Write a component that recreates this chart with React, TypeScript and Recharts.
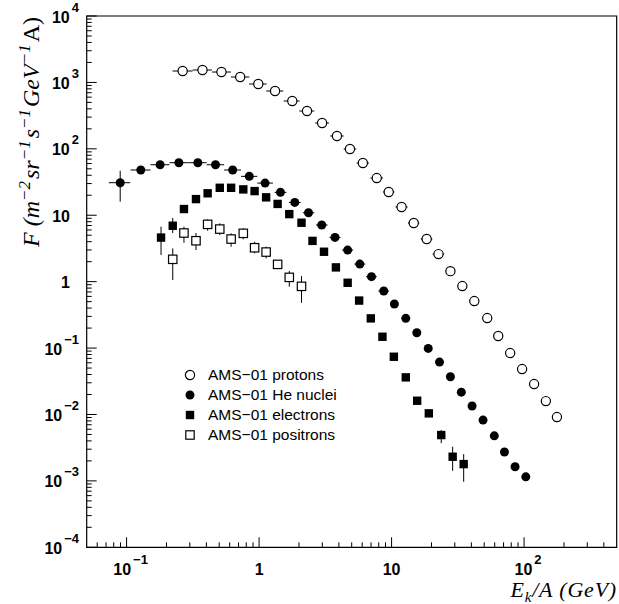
import React from "react";
import { ErrorBar, Label, Legend, ReferenceArea, Scatter, ScatterChart, XAxis, YAxis } from "recharts";

// AMS-01 spectra, values (E in GeV/n, F in m^-2 sr^-1 s^-1 (GeV/n)^-1)
const PROTON_E = [0.265, 0.374, 0.52, 0.72, 0.986, 1.32, 1.78, 2.3, 2.99, 3.87, 4.85, 6.07, 7.73, 9.51, 11.9, 14.7, 18.4, 22.6, 27.8, 34.2, 42.1, 52.7, 63.8, 78.5, 96.6, 119, 146, 177];
const PROTON_F = [1485, 1537, 1434, 1206, 946, 742, 525, 371, 245, 156, 99.3, 61.1, 36.3, 22.4, 13.3, 7.63, 4.38, 2.6, 1.44, 0.858, 0.51, 0.283, 0.152, 0.0841, 0.0483, 0.0287, 0.0159, 0.00914];
const PROTON_E_ERR = [[0.043, 0.05], [0.059, 0.067], [0.079, 0.093], [0.107, 0.124], [0.146, 0.152], [0.188, 0.203], [0.247, 0.242], [0.288, 0.311], [0.34, 0.38], [0.43, 0.48], [0.5, 0.56], [0.62, 0.68], [0.8, 0.88], [0.9, 1.0], [1.2, 1.3], [1.4, 1.5], [1.8, 1.9], [2.2, 2.3]];

const HE_E = [0.0895, 0.128, 0.179, 0.248, 0.345, 0.469, 0.632, 0.843, 1.11, 1.45, 1.86, 2.36, 2.97, 3.74, 4.66, 5.76, 7.05, 8.73, 10.5, 12.8, 15.5, 18.9, 23.0, 27.8, 33.6, 40.5, 49.0, 59.6, 71.1, 85.5, 103];
const HE_F = [30.9, 48.0, 57.6, 61.8, 61.8, 57.6, 48.0, 38.5, 30.5, 22.1, 15.6, 10.9, 7.12, 4.64, 2.99, 1.84, 1.19, 0.722, 0.46, 0.28, 0.17, 0.0989, 0.0615, 0.037, 0.0217, 0.0134, 0.00824, 0.00477, 0.00272, 0.00163, 0.00115];
const HE_E_ERR = [[0.016, 0.017], [0.0208, 0.0235], [0.0275, 0.0318], [0.0372, 0.0448], [0.0522, 0.0575], [0.0665, 0.0757], [0.0873, 0.0991], [0.112, 0.126], [0.141, 0.162], [0.14, 0.16], [0.18, 0.2], [0.22, 0.25], [0.28, 0.32], [0.34, 0.38], [0.42, 0.47], [0.52, 0.58], [0.62, 0.68], [0.78, 0.85]];
const HE_F_ERR = [[14.9, 15.9]];

const ELECTRON_E = [0.182, 0.223, 0.271, 0.334, 0.409, 0.505, 0.615, 0.76, 0.925, 1.13, 1.38, 1.69, 2.09, 2.53, 3.09, 3.8, 4.66, 5.69, 6.97, 8.53, 10.4, 12.8, 15.6, 19.1, 23.7, 28.9, 35.0];
const ELECTRON_F = [4.61, 6.95, 12.4, 17.5, 21.4, 25.9, 25.9, 24.5, 23.1, 18.6, 14.8, 10.4, 7.71, 4.11, 2.82, 1.64, 0.962, 0.519, 0.28, 0.148, 0.074, 0.0362, 0.0161, 0.0104, 0.0049, 0.00231, 0.00179];
const ELECTRON_F_ERR: (number[] | undefined)[] = [[2.09, 2.1], [1.55, 2.13], [1.0, 1.2]];
ELECTRON_F_ERR[24] = [0.00119, 0.00092];
ELECTRON_F_ERR[25] = [0.00089, 0.00096];
ELECTRON_F_ERR[26] = [0.00082, 0.00074];

const POSITRON_E = [0.223, 0.271, 0.334, 0.409, 0.505, 0.615, 0.76, 0.925, 1.13, 1.38, 1.69, 2.09];
const POSITRON_F = [2.17, 5.4, 4.13, 7.29, 6.19, 4.38, 5.34, 3.24, 2.79, 1.82, 1.16, 0.85];
const POSITRON_F_ERR = [[1.11, 1.0], [1.55, 1.31], [1.14, 1.27], [1.44, 1.38], [1.15, 1.36], [1.02, 0.96], [1.0, 1.01], [0.57, 0.75], [0.55, 0.57], [0.2, 0.2], [0.32, 0.29], [0.37, 0.36]];

const LEGEND = [
  { kind: "openCircle", label: "AMS\u221201 protons" },
  { kind: "circle", label: "AMS\u221201 He nuclei" },
  { kind: "square", label: "AMS\u221201 electrons" },
  { kind: "openSquare", label: "AMS\u221201 positrons" },
];

const X_DOMAIN = [0.05, 500];
const Y_DOMAIN = [1e-4, 1e4];
const X_TICKS = [0.06, 0.07, 0.08, 0.09, 0.1, 0.2, 0.3, 0.4, 0.5, 0.6, 0.7, 0.8, 0.9, 1, 2, 3, 4, 5, 6, 7, 8, 9, 10, 20, 30, 40, 50, 60, 70, 80, 90, 100, 200, 300, 400];
const Y_DECADES = [1e-4, 1e-3, 1e-2, 1e-1, 1, 10, 100, 1e3];
const Y_TICKS = [...Y_DECADES.flatMap((d) => [1, 2, 3, 4, 5, 6, 7, 8, 9].map((m) => m * d)), 1e4];

const W = 619;
const H = 604;
const LEFT = 86.7;
const TOP = 16;
const RIGHT = 616.7;
const BOTTOM = 547.3;

const SANS = "'Liberation Sans', Arial, Helvetica, sans-serif";
const SERIF = "'Liberation Serif', 'Times New Roman', Times, serif";

const build = (xs: number[], ys: number[], ex?: any[], ey?: any[]) =>
  xs.map((x, i) => ({ x, y: ys[i], ex: ex?.[i], ey: ey?.[i] }));

const protons = build(PROTON_E, PROTON_F, PROTON_E_ERR);
const helium = build(HE_E, HE_F, HE_E_ERR, HE_F_ERR);
const electrons = build(ELECTRON_E, ELECTRON_F, undefined, ELECTRON_F_ERR);
const positrons = build(POSITRON_E, POSITRON_F, undefined, POSITRON_F_ERR);

function marker(kind: string, cx: number, cy: number) {
  if (kind === "openCircle")
    return <circle cx={cx} cy={cy} r={4.6} fill="#fff" stroke="#000" strokeWidth={1.2} />;
  if (kind === "circle") return <circle cx={cx} cy={cy} r={4.5} fill="#000" />;
  if (kind === "square") return <rect x={cx - 4.2} y={cy - 4.2} width={8.4} height={8.4} fill="#000" />;
  return <rect x={cx - 4.2} y={cy - 4.2} width={8.4} height={8.4} fill="#fff" stroke="#000" strokeWidth={1.2} />;
}

const shape = (kind: string) => (p: any) => marker(kind, p.cx, p.cy);

function isDecade(v: number) {
  const l = Math.log10(v);
  return Math.abs(l - Math.round(l)) < 1e-6;
}

function powLabel(v: number) {
  const e = Math.round(Math.log10(v));
  if (e === 0) return { base: "1", exp: "" };
  if (e === 1) return { base: "10", exp: "" };
  return { base: "10", exp: e < 0 ? "\u2212" + Math.abs(e) : String(e) };
}

function XTick(props: any) {
  const { x, payload } = props;
  const major = isDecade(payload.value);
  const lab = powLabel(payload.value);
  return (
    <g>
      <line x1={x} x2={x} y1={BOTTOM} y2={BOTTOM - (major ? 10 : 5)} stroke="#000" strokeWidth={1} />
      {major && (
        <text x={x + (lab.exp ? 4 : 0)} y={575} textAnchor="middle" fontFamily={SANS} fontWeight="bold" fontSize={16} fill="#000">
          {lab.base}
          {lab.exp && (
            <tspan dx={2} dy={-11} fontSize={13}>
              {lab.exp}
            </tspan>
          )}
        </text>
      )}
    </g>
  );
}

function YTick(props: any) {
  const { y, payload } = props;
  const major = isDecade(payload.value);
  const lab = powLabel(payload.value);
  return (
    <g>
      <line x1={LEFT} x2={LEFT + (major ? 10 : 5)} y1={y} y2={y} stroke="#000" strokeWidth={1} />
      {major && (
        <text x={lab.exp ? 79 : 70} y={y + 6.5} textAnchor="end" fontFamily={SANS} fontWeight="bold" fontSize={16} fill="#000">
          {lab.base}
          {lab.exp && (
            <tspan dx={2} dy={-11} fontSize={13}>
              {lab.exp}
            </tspan>
          )}
        </text>
      )}
    </g>
  );
}

function YTitle() {
  const sup = (s: string) => (
    <>
      <tspan dy={-9} fontSize={17}>
        {s}
      </tspan>
      <tspan dy={9}>{"\u200a"}</tspan>
    </>
  );
  return (
    <text x={39} y={132} transform="rotate(-90, 39, 132)" textAnchor="middle" fontFamily={SERIF} fontStyle="italic" fontSize={24} fill="#000">
      <tspan>F (m</tspan>
      {sup("\u22122")}
      <tspan>sr</tspan>
      {sup("\u22121")}
      <tspan>s</tspan>
      {sup("\u22121")}
      <tspan>GeV</tspan>
      {sup("\u22121")}
      <tspan fontStyle="normal">A)</tspan>
    </text>
  );
}

function XTitle() {
  return (
    <text x={617} y={597} textAnchor="end" fontFamily={SERIF} fontStyle="italic" fontSize={22} letterSpacing={0.8} fill="#000">
      E
      <tspan dy={5} fontSize={15}>
        k
      </tspan>
      <tspan dy={-5}>/A (GeV)</tspan>
    </text>
  );
}

function LegendBox() {
  return (
    <div style={{ fontFamily: SANS, fontSize: 15.5, color: "#000" }}>
      {LEGEND.map((item) => (
        <div key={item.label} style={{ display: "flex", alignItems: "center", height: 20 }}>
          <svg width={12} height={12} style={{ display: "block" }}>
            {marker(item.kind, 6, 6)}
          </svg>
          <span style={{ marginLeft: 12.5, whiteSpace: "nowrap" }}>{item.label}</span>
        </div>
      ))}
    </div>
  );
}

export default function App() {
  return (
    <div style={{ position: "absolute", left: 0, top: 0, background: "#fff" }}>
      <ScatterChart
        width={W}
        height={H}
        margin={{ top: TOP, right: W - RIGHT, bottom: H - BOTTOM - 1, left: LEFT - 1 }}
      >
        <XAxis
          dataKey="x"
          type="number"
          scale="log"
          domain={X_DOMAIN}
          allowDataOverflow
          ticks={X_TICKS}
          interval={0}
          height={1}
          axisLine={false}
          tickLine={false}
          tick={<XTick />}
        >
          <Label content={<XTitle />} />
        </XAxis>
        <YAxis
          dataKey="y"
          type="number"
          scale="log"
          domain={Y_DOMAIN}
          allowDataOverflow
          ticks={Y_TICKS}
          interval={0}
          width={1}
          axisLine={false}
          tickLine={false}
          tick={<YTick />}
        >
          <Label content={<YTitle />} />
        </YAxis>
        <ReferenceArea
          x1={X_DOMAIN[0]}
          x2={X_DOMAIN[1]}
          y1={Y_DOMAIN[0]}
          y2={Y_DOMAIN[1]}
          fill="none"
          stroke="#000"
          strokeWidth={1.2}
          ifOverflow="visible"
        />
        <Scatter name="protons" data={protons} shape={shape("openCircle")} isAnimationActive={false}>
          <ErrorBar dataKey="ex" direction="x" width={0} stroke="#000" strokeWidth={1} isAnimationActive={false} />
        </Scatter>
        <Scatter name="He" data={helium} shape={shape("circle")} isAnimationActive={false}>
          <ErrorBar dataKey="ex" direction="x" width={0} stroke="#000" strokeWidth={1} isAnimationActive={false} />
          <ErrorBar dataKey="ey" direction="y" width={0} stroke="#000" strokeWidth={1} isAnimationActive={false} />
        </Scatter>
        <Scatter name="electrons" data={electrons} shape={shape("square")} isAnimationActive={false}>
          <ErrorBar dataKey="ey" direction="y" width={0} stroke="#000" strokeWidth={1} isAnimationActive={false} />
        </Scatter>
        <Scatter name="positrons" data={positrons} shape={shape("openSquare")} isAnimationActive={false}>
          <ErrorBar dataKey="ey" direction="y" width={0} stroke="#000" strokeWidth={1} isAnimationActive={false} />
        </Scatter>
        <Legend
          content={<LegendBox />}
          layout="vertical"
          align="center"
          verticalAlign="middle"
          wrapperStyle={{ left: 183.5, top: 365, width: 220, height: 80 }}
        />
      </ScatterChart>
    </div>
  );
}
